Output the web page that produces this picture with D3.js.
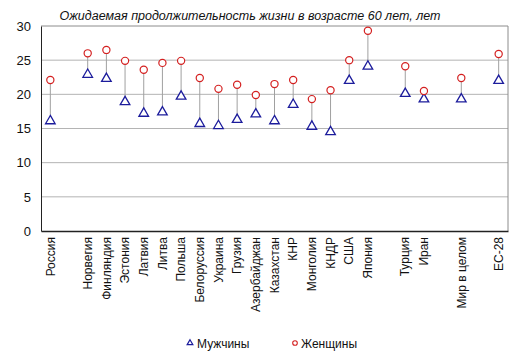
<!DOCTYPE html>
<html>
<head>
<meta charset="utf-8">
<script src="https://cdn.jsdelivr.net/npm/d3@7"></script>
<style>
  body { margin: 0; background: #fff; }
  svg { font-family: "Liberation Sans", Arial, sans-serif; }
</style>
</head>
<body>
<div id="chart"></div>
<script>
// --- data ---
// empty strings are spacer slots between groups
const countries = ["Россия", "", "Норвегия", "Финляндия", "Эстония", "Латвия", "Литва", "Польша",
  "Белоруссия", "Украина", "Грузия", "Азербайджан", "Казахстан", "КНР", "Монголия", "КНДР",
  "США", "Япония", "", "Турция", "Иран", "", "Мир в целом", "", "ЕС-28"];
const men   = [16.1, null, 22.9, 22.3, 18.9, 17.2, 17.4, 19.7, 15.7, 15.4, 16.3, 17.1, 16.1, 18.5,
  15.3, 14.5, 22.0, 24.1, null, 20.1, 19.3, null, 19.3, null, 22.0];
const women = [22.1, null, 26.0, 26.5, 24.9, 23.6, 24.6, 24.9, 22.4, 20.8, 21.4, 19.9, 21.5, 22.1,
  19.3, 20.6, 25.0, 29.3, null, 24.1, 20.5, null, 22.4, null, 25.9];
const yTicks = [0, 5, 10, 15, 20, 25, 30];

const W = 522, H = 359;
const margin = { top: 26, right: 14, bottom: 128, left: 41 };

const svg = d3.select("#chart").append("svg")
  .attr("width", W).attr("height", H);

const x = d3.scaleBand()
  .domain(d3.range(countries.length))
  .range([margin.left, W - margin.right]);
const y = d3.scaleLinear()
  .domain([0, 30])
  .range([H - margin.bottom, margin.top]);

// gridlines (top one doubles as the frame)
svg.append("g")
  .selectAll("line")
  .data(yTicks.filter(t => t > 0))
  .join("line")
  .attr("x1", margin.left).attr("x2", W - margin.right)
  .attr("y1", d => y(d)).attr("y2", d => y(d))
  .attr("stroke", d => d === 30 ? "#8c8c8c" : "#b4b4b4").attr("stroke-width", 1);

// frame (right side)
svg.append("line")
  .attr("x1", W - margin.right).attr("x2", W - margin.right)
  .attr("y1", y(30)).attr("y2", y(0))
  .attr("stroke", "#8c8c8c");

// y axis
const yAxis = svg.append("g")
  .attr("transform", `translate(${margin.left},0)`)
  .call(d3.axisLeft(y).tickValues(yTicks).tickSize(0).tickPadding(10));
yAxis.select(".domain").attr("stroke", "#222");
yAxis.selectAll("text").attr("font-size", 13).attr("fill", "#111");

// x axis
const xAxis = svg.append("g")
  .attr("transform", `translate(0,${y(0)})`)
  .call(d3.axisBottom(x).tickSize(0).tickFormat(i => countries[i]));
xAxis.select(".domain").attr("stroke", "#222").attr("stroke-width", 1.3);
xAxis.selectAll("text")
  .attr("font-size", 12).attr("fill", "#111")
  .attr("transform", "rotate(-90)")
  .attr("text-anchor", "end")
  .attr("x", -6).attr("y", 0).attr("dy", "0.35em");

const pts = d3.range(countries.length).filter(i => men[i] != null);
const cx = i => x(i) + x.bandwidth() / 2;

// connectors
svg.append("g")
  .selectAll("line")
  .data(pts)
  .join("line")
  .attr("x1", cx).attr("x2", cx)
  .attr("y1", i => y(men[i])).attr("y2", i => y(women[i]))
  .attr("stroke", "#a0a0a0").attr("stroke-width", 1);

const tri = d3.symbol().type(d3.symbolTriangle).size(40);

// men
svg.append("g")
  .selectAll("path")
  .data(pts)
  .join("path")
  .attr("d", tri)
  .attr("transform", i => `translate(${cx(i)},${y(men[i])})`)
  .attr("fill", "#fff").attr("stroke", "#1c1c9c").attr("stroke-width", 1.3);

// women
svg.append("g")
  .selectAll("circle")
  .data(pts)
  .join("circle")
  .attr("cx", cx).attr("cy", i => y(women[i]))
  .attr("r", 3.6)
  .attr("fill", "#fff").attr("stroke", "#d42020").attr("stroke-width", 1.2);

// title
svg.append("text")
  .attr("x", 250).attr("y", 20)
  .attr("text-anchor", "middle")
  .attr("font-size", 12.5).attr("font-style", "italic").attr("fill", "#111")
  .text("Ожидаемая продолжительность жизни в возрасте 60 лет, лет");

// legend
const lg = svg.append("g").attr("transform", "translate(0,343)");
lg.append("path")
  .attr("d", d3.symbol().type(d3.symbolTriangle).size(14))
  .attr("transform", "translate(190,0)")
  .attr("fill", "#fff").attr("stroke", "#1c1c9c").attr("stroke-width", 1.2);
lg.append("text").attr("x", 197).attr("y", 4.5)
  .attr("font-size", 12).attr("fill", "#111").text("Мужчины");
lg.append("circle").attr("cx", 295).attr("cy", 0).attr("r", 2.3)
  .attr("fill", "#fff").attr("stroke", "#d42020").attr("stroke-width", 1.1);
lg.append("text").attr("x", 301).attr("y", 4.5)
  .attr("font-size", 12).attr("fill", "#111").text("Женщины");
</script>
</body>
</html>
